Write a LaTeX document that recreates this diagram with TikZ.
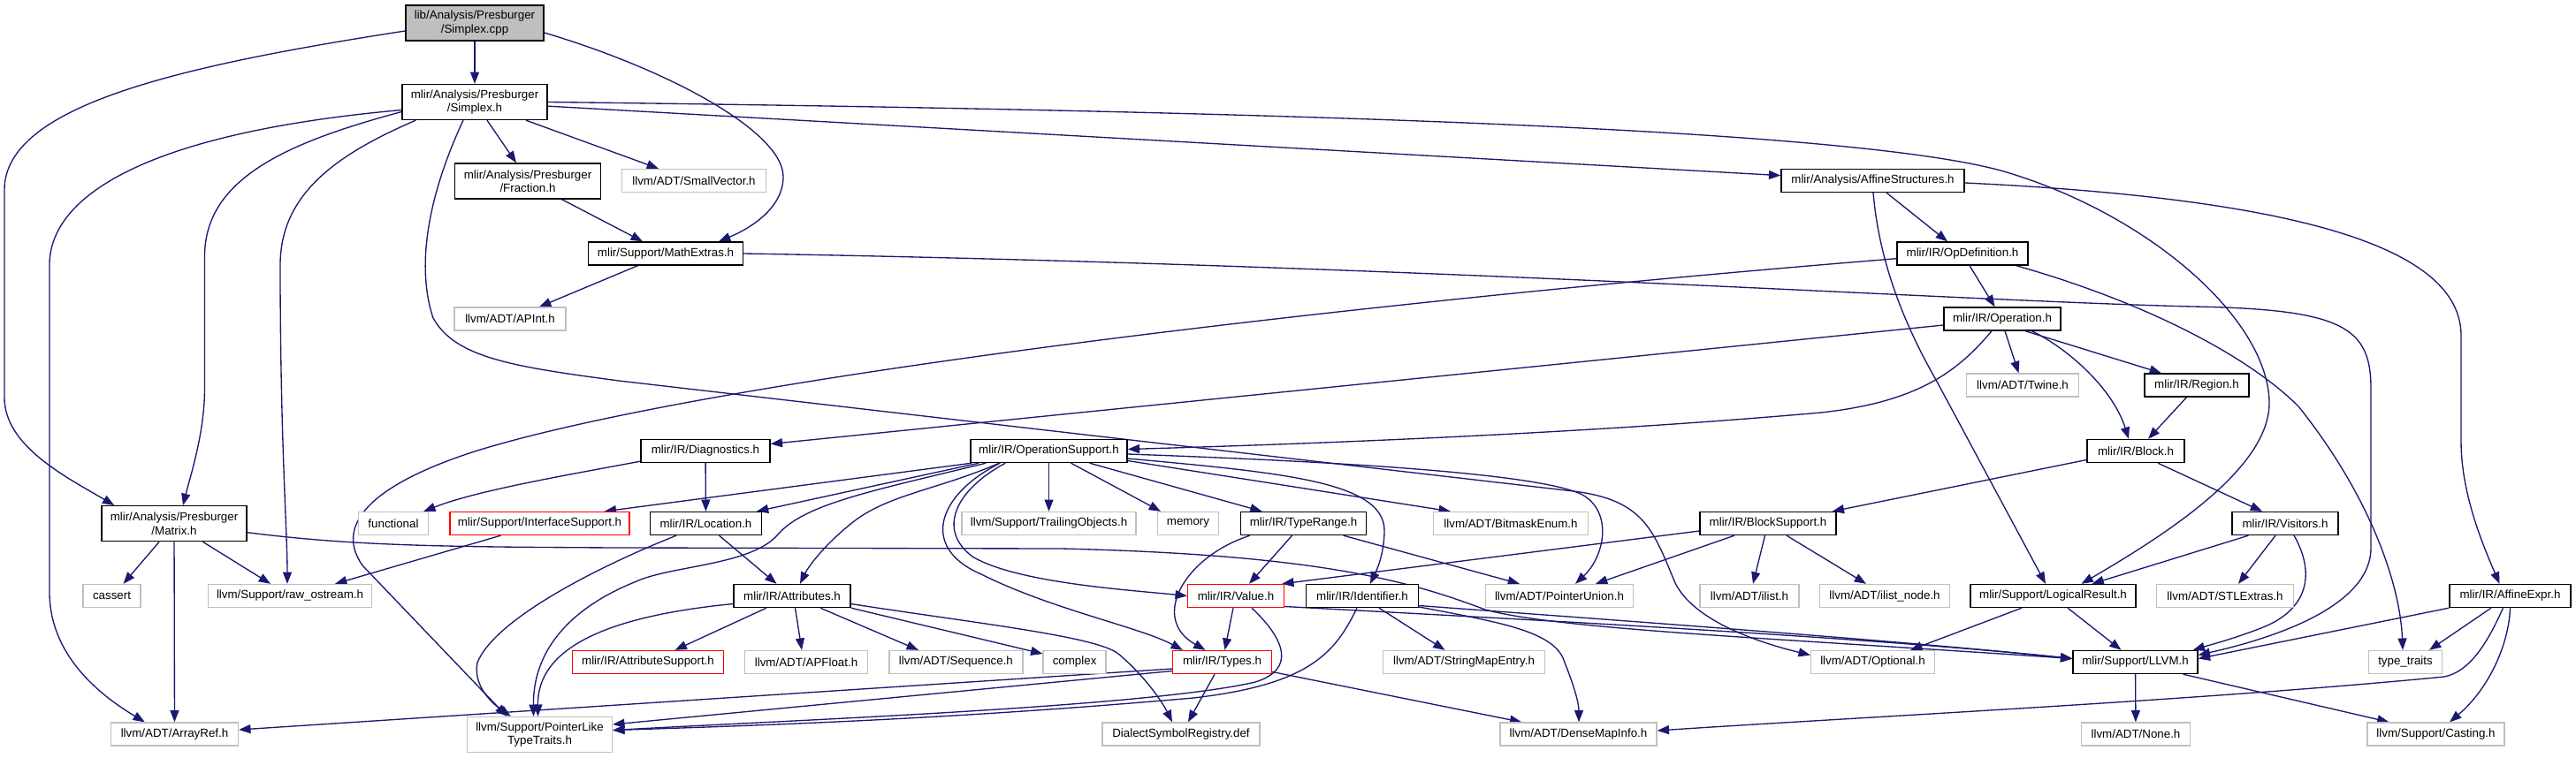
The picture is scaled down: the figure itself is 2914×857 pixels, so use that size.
\documentclass[tikz,border=0pt]{standalone}
\usepackage{fontspec}
\setmainfont{Liberation Sans}
\usetikzlibrary{arrows.meta,calc,backgrounds}
\definecolor{edgeblue}{HTML}{191970}
\definecolor{grey75}{HTML}{BFBFBF}
\tikzset{
  nd/.style={draw=black, fill=white, line width=1pt, inner sep=0pt, minimum height=19.5pt, align=center, text=black, font=\fontsize{10pt}{11.5pt}\selectfont},
  two/.style={minimum height=30pt},
  gx/.style={draw=grey75},
  rd/.style={draw=red},
  rootfill/.style={fill=grey75},
  bw/.style={minimum width=#1*0.75pt},
  conn/.style={draw=edgeblue, line width=1pt, -{Triangle[length=10pt,width=7.5pt]}}
}
\begin{document}
\begin{tikzpicture}[x=0.75pt,y=-0.75pt]
\useasboundingbox (0,0) rectangle (2914,857);
% nodes
\node[nd,two,rootfill,bw=156] (cpp) at (537,26) {lib/Analysis/Presburger\\/Simplex.cpp};
\node[nd,two,bw=164] (sh) at (537,115.5) {mlir/Analysis/Presburger\\/Simplex.h};
\node[nd,two,bw=164.5] (frac) at (597,205) {mlir/Analysis/Presburger\\/Fraction.h};
\node[nd,gx,bw=163] (sv) at (785,204.5) {llvm/ADT/SmallVector.h};
\node[nd,bw=207] (aff) at (2118.5,204.5) {mlir/Analysis/AffineStructures.h};
\node[nd,bw=175] (me) at (753,287) {mlir/Support/MathExtras.h};
\node[nd,bw=148] (opd) at (2220,287) {mlir/IR/OpDefinition.h};
\node[nd,gx,bw=126] (apint) at (577,361) {llvm/ADT/APInt.h};
\node[nd,bw=132] (op) at (2265,361) {mlir/IR/Operation.h};
\node[nd,gx,bw=127] (twine) at (2288,436) {llvm/ADT/Twine.h};
\node[nd,bw=118] (region) at (2485,436) {mlir/IR/Region.h};
\node[nd,bw=146] (diag) at (798,510.5) {mlir/IR/Diagnostics.h};
\node[nd,bw=177] (ops) at (1186.5,510.5) {mlir/IR/OperationSupport.h};
\node[nd,bw=110] (block) at (2416,510.5) {mlir/IR/Block.h};
\node[nd,two,bw=164] (mtx) at (197,592.7) {mlir/Analysis/Presburger\\/Matrix.h};
\node[nd,gx,bw=79] (func) at (445,592.5) {functional};
\node[nd,rd,bw=203] (ifs) at (610.5,592.5) {mlir/Support/InterfaceSupport.h};
\node[nd,bw=125.5] (loc) at (798.5,592.5) {mlir/IR/Location.h};
\node[nd,gx,bw=197] (trail) at (1186.5,592.5) {llvm/Support/TrailingObjects.h};
\node[nd,gx,bw=69] (mem) at (1344,592.5) {memory};
\node[nd,bw=142] (tr) at (1474.6,592.5) {mlir/IR/TypeRange.h};
\node[nd,gx,bw=175] (bme) at (1709,592.5) {llvm/ADT/BitmaskEnum.h};
\node[nd,bw=154] (bs) at (2000,592.5) {mlir/IR/BlockSupport.h};
\node[nd,bw=120] (vis) at (2585,592.5) {mlir/IR/Visitors.h};
\node[nd,gx,bw=65] (cassert) at (126.5,674.5) {cassert};
\node[nd,gx,bw=185] (raw) at (328,674.5) {llvm/Support/raw\_ostream.h};
\node[nd,bw=132] (attr) at (896,674.5) {mlir/IR/Attributes.h};
\node[nd,rd,bw=109] (val) at (1398,674.5) {mlir/IR/Value.h};
\node[nd,bw=127] (ident) at (1541,674.5) {mlir/IR/Identifier.h};
\node[nd,gx,bw=167] (pu) at (1764,674.5) {llvm/ADT/PointerUnion.h};
\node[nd,gx,bw=112] (ilist) at (1979,674.5) {llvm/ADT/ilist.h};
\node[nd,gx,bw=147] (ilnode) at (2132,674.5) {llvm/ADT/ilist\_node.h};
\node[nd,bw=187] (lr) at (2322.5,674.5) {mlir/Support/LogicalResult.h};
\node[nd,gx,bw=155] (stl) at (2517,674.5) {llvm/ADT/STLExtras.h};
\node[nd,bw=137] (ae) at (2839.5,674.5) {mlir/IR/AffineExpr.h};
\node[nd,rd,bw=171] (atsup) at (733,749.5) {mlir/IR/AttributeSupport.h};
\node[nd,gx,bw=139] (apf) at (912,749.5) {llvm/ADT/APFloat.h};
\node[nd,gx,bw=151] (seq) at (1081.4,749.5) {llvm/ADT/Sequence.h};
\node[nd,gx,bw=71] (cplx) at (1215.6,749.5) {complex};
\node[nd,rd,bw=112] (types) at (1382.5,749.5) {mlir/IR/Types.h};
\node[nd,gx,bw=182.5] (sme) at (1656,749.5) {llvm/ADT/StringMapEntry.h};
\node[nd,gx,bw=140] (opt) at (2118.5,749.5) {llvm/ADT/Optional.h};
\node[nd,bw=141] (llvm) at (2415.5,749.5) {mlir/Support/LLVM.h};
\node[nd,gx,bw=83] (tt) at (2721,749.5) {type\_traits};
\node[nd,gx,bw=144] (arr) at (197.5,831) {llvm/ADT/ArrayRef.h};
\node[nd,two,gx,bw=164] (plt) at (610.5,831.5) {llvm/Support/PointerLike\\TypeTraits.h};
\node[nd,gx,bw=178] (dsr) at (1336,831) {DialectSymbolRegistry.def};
\node[nd,gx,bw=177] (dmi) at (1785.5,831) {llvm/ADT/DenseMapInfo.h};
\node[nd,gx,bw=122.5] (none) at (2416,831) {llvm/ADT/None.h};
\node[nd,gx,bw=155] (cast) at (2755.5,831) {llvm/Support/Casting.h};

\begin{pgfonlayer}{background}
\fill[white] (0,0) rectangle (2914,857);
% Simplex.cpp
\draw[conn] (cpp) -- (sh);
\draw[conn] ($(cpp.west)+(0,9)$) .. controls (200,75) and (5,120) .. (5,215) -- (5,450) .. controls (5,505) and (75,540) .. ($(mtx.north west)+(15,0)$);
\draw[conn] ($(cpp.east)+(0,11)$) .. controls (760,80) and (886,150) .. (886,200) .. controls (886,235) and (850,258) .. ($(me.north)+(60,0)$);
% Simplex.h
\draw[conn] ($(sh.south)+(14,0)$) -- ($(frac.north)+(-13,0)$);
\draw[conn] ($(sh.south)+(58,0)$) -- ($(sv.north)+(-40,0)$);
\draw[conn] (sh) -- (aff);
\draw[conn] (sh.east) .. controls (1400,125) and (2100,144) .. (2270,195) .. controls (2430,243) and (2565,360) .. (2567,455) .. controls (2568,530) and (2450,605) .. ($(lr.north)+(32,0)$);
\draw[conn] ($(sh.west)+(0,11)$) .. controls (330,160) and (231.5,200) .. (231.5,290) -- (231.5,440) .. controls (231.5,490) and (215,540) .. ($(mtx.north)+(10,0)$);
\draw[conn] ($(sh.west)+(0,9)$) .. controls (170,150) and (56,220) .. (56,300) -- (56,670) .. controls (56,740) and (110,785) .. ($(arr.north west)+(39,0)$);
\draw[conn] ($(sh.south west)+(16,0)$) .. controls (380,175) and (317,220) .. (317,300) .. controls (317,500) and (325,600) .. ($(raw.north)+(-3,0)$);
\draw[conn] ($(sh.south)+(-13,0)$) .. controls (485,220) and (470,300) .. (490,360) .. controls (515,405) and (580,415) .. (700,431) -- (1780,556) .. controls (1860,566) and (1870,600) .. (1895,660) .. controls (1915,700) and (1980,725) .. ($(opt.west)+(0,-8)$);
% Fraction, MathExtras
\draw[conn] ($(frac.south)+(38.5,0)$) -- ($(me.north)+(-26,0)$);
\draw[conn] ($(me.south)+(-31.5,0)$) -- ($(apint.north)+(33,0)$);
\draw[conn] (me.east) .. controls (1600,300) and (2200,340) .. (2480,347) .. controls (2650,350) and (2682,370) .. (2682,440) -- (2682,620) .. controls (2682,690) and (2560,725) .. ($(llvm.east)+(0,-8)$);
% AffineStructures
\draw[conn] ($(aff.south)+(15.5,0)$) -- ($(opd.north)+(-17,0)$);
\draw[conn] ($(aff.south)+(0.5,0)$) .. controls (2125,290) and (2150,360) .. (2190,430) -- ($(lr.north)+(-8.5,0)$);
\draw[conn] ($(aff.east)+(0,2.5)$) .. controls (2600,225) and (2784,280) .. (2784,380) -- (2784,500) .. controls (2784,560) and (2810,620) .. ($(ae.north)+(-12,0)$);
% OpDefinition
\draw[conn] ($(opd.south)+(8,0)$) -- ($(op.north)+(-8.5,0)$);
\draw[conn] ($(opd.west)+(0,5.7)$) .. controls (1500,345) and (800,430) .. (540,510) .. controls (430,545) and (375,590) .. (410,640) -- ($(plt.north west)+(45.5,0)$);
\draw[conn] ($(opd.south east)+(-14,0)$) .. controls (2420,340) and (2540,400) .. (2600,460) .. controls (2680,560) and (2715,660) .. ($(tt.north)+(-3,0)$);
% Operation
\draw[conn] ($(op.south)+(3,0)$) -- ($(twine.north)+(-4.5,0)$);
\draw[conn] ($(op.south)+(26,0)$) -- ($(region.north)+(-40,0)$);
\draw[conn] ($(op.south)+(33.5,0)$) .. controls (2340,395) and (2390,440) .. ($(block.north)+(-8,0)$);
\draw[conn] ($(op.south)+(-12,0)$) .. controls (2215,420) and (2170,455) .. (2060,467) .. controls (1800,490) and (1500,502) .. ($(ops.east)+(0,-2)$);
\draw[conn] ($(op.west)+(0,7)$) -- ($(diag.east)+(0,-8)$);
% Diagnostics
\draw[conn] (diag) -- (loc);
\draw[conn] ($(diag.south west)+(0,-2)$) .. controls (640,538) and (540,555) .. ($(func.north east)+(-6,0)$);
% OperationSupport
\draw[conn] ($(ops.south west)+(2,0)$) -- ($(ifs.north east)+(-29,0)$);
\draw[conn] ($(ops.south west)+(10,0)$) -- ($(loc.north east)+(-6,0)$);
\draw[conn] ($(ops.south west)+(18,0)$) .. controls (990,555) and (910,570) .. (880,605) .. controls (850,640) and (760,640) .. (720,658) .. controls (640,690) and (603,740) .. ($(plt.north)+(-7,0)$);
\draw[conn] ($(ops.south west)+(33,0)$) .. controls (1060,555) and (1000,560) .. (960,595) .. controls (935,615) and (915,640) .. ($(attr.north)+(9,0)$);
\draw[conn] ($(ops.south west)+(34,0)$) .. controls (1060,560) and (1040,620) .. (1110,650) .. controls (1190,690) and (1290,710) .. ($(types.north west)+(12,0)$);
\draw[conn] ($(ops.south west)+(40,0)$) .. controls (1080,555) and (1060,600) .. (1100,630) .. controls (1150,660) and (1280,668) .. (val.west);
\draw[conn] (ops) -- (trail);
\draw[conn] ($(ops.south)+(25,0)$) -- ($(mem.north)+(-31,0)$);
\draw[conn] ($(ops.south)+(46,0)$) -- ($(tr.north)+(-47,0)$);
\draw[conn] ($(ops.east)+(0,8.5)$) .. controls (1450,535) and (1565,545) .. (1566,600) .. controls (1566,630) and (1555,650) .. ($(ident.north)+(9,0)$);
\draw[conn] ($(ops.east)+(0,11)$) -- ($(bme.north west)+(20,0)$);
\draw[conn] ($(ops.east)+(0,3.5)$) .. controls (1500,522) and (1740,535) .. (1790,560) .. controls (1825,580) and (1815,630) .. ($(pu.north)+(18,0)$);
% TypeRange
\draw[conn] ($(tr.south)+(-13,0)$) -- ($(val.north)+(15,0)$);
\draw[conn] ($(tr.south west)+(11,0)$) .. controls (1340,630) and (1300,700) .. ($(types.north)+(-19,0)$);
\draw[conn] ($(tr.south)+(45,0)$) -- ($(pu.north)+(-45,0)$);
% Value
\draw[conn] ($(val.south)+(-3,0)$) -- ($(types.north)+(3,0)$);
\draw[conn] ($(val.south)+(18,0)$) .. controls (1455,725) and (1465,758) .. (1420,772) .. controls (1300,800) and (900,815) .. ($(plt.east)+(0,-5)$);
\draw[conn] ($(val.east)+(0,12)$) .. controls (1700,700) and (2100,720) .. ($(llvm.west)+(0,-4)$);
% Identifier
\draw[conn] ($(ident.east)+(0,11)$) .. controls (1800,700) and (2150,725) .. ($(llvm.west)+(0,-4)$);
\draw[conn] ($(ident.south)+(19,0)$) -- ($(sme.north)+(-21.5,0)$);
\draw[conn] ($(ident.east)+(0,12.5)$) .. controls (1700,705) and (1760,715) .. (1770,750) .. controls (1780,775) and (1786,795) .. ($(dmi.north)+(0.5,0)$);
\draw[conn] ($(ident.south)+(-6,0)$) .. controls (1510,740) and (1480,775) .. (1350,790) .. controls (1100,812) and (900,820) .. ($(plt.east)+(0,-5)$);
% Matrix
\draw[conn] ($(mtx.east)+(0,10)$) .. controls (400,618) and (500,619) .. (700,620) -- (1200,621) .. controls (1500,628) and (1600,660) .. (1680,690) .. controls (1760,712) and (2000,722) .. ($(llvm.west)+(0,-4)$);
\draw[conn] ($(mtx.south)+(-17,0)$) -- ($(cassert.north)+(13,0)$);
\draw[conn] (mtx) -- (arr);
\draw[conn] ($(mtx.south)+(32.5,0)$) -- ($(raw.north)+(-22,0)$);
\draw[conn] ($(ifs.south)+(-44,0)$) -- ($(raw.north)+(51,0)$);
% Location
\draw[conn] ($(loc.south)+(15,0)$) -- ($(attr.north)+(-17.5,0)$);
\draw[conn] ($(loc.south west)+(30,0)$) .. controls (680,640) and (560,700) .. (540,750) .. controls (535,775) and (555,795) .. ($(plt.north west)+(50,0)$);
% Attributes
\draw[conn] ($(attr.south)+(-29,0)$) -- ($(atsup.north)+(30.5,0)$);
\draw[conn] ($(attr.south)+(3.5,0)$) -- ($(apf.north)+(-5,0)$);
\draw[conn] ($(attr.south)+(32,0)$) -- ($(seq.north)+(-42.5,0)$);
\draw[conn] (attr.south east) -- ($(cplx.west)+(0,-9.5)$);
\draw[conn] ($(attr.east)+(0,9)$) .. controls (1100,705) and (1240,720) .. (1265,740) .. controls (1295,765) and (1315,795) .. ($(dsr.north)+(-10,0)$);
\draw[conn] ($(attr.west)+(0,9)$) .. controls (660,700) and (608,745) .. ($(plt.north)+(-2,0)$);
% Types
\draw[conn] ($(types.south)+(-8.5,0)$) -- ($(dsr.north)+(8,0)$);
\draw[conn] ($(types.east)+(0,11)$) -- ($(dmi.north west)+(25,0)$);
\draw[conn] ($(types.west)+(0,10)$) -- ($(plt.east)+(0,-11.5)$);
\draw[conn] ($(types.west)+(0,7.5)$) -- ($(arr.east)+(0,-5)$);
% BlockSupport, Block, Region, Visitors
\draw[conn] ($(bs.west)+(0,8.5)$) -- ($(val.north east)+(-3,0)$);
\draw[conn] ($(bs.south)+(-38,0)$) -- ($(pu.north)+(41,0)$);
\draw[conn] ($(bs.south)+(-3.5,0)$) -- ($(ilist.north)+(4,0)$);
\draw[conn] ($(bs.south)+(21,0)$) -- ($(ilnode.north)+(-21,0)$);
\draw[conn] ($(block.west)+(0,10)$) -- ($(bs.north east)+(-5,0)$);
\draw[conn] ($(block.south)+(25,0)$) -- ($(vis.north)+(-26,0)$);
\draw[conn] ($(region.south)+(-11.5,0)$) -- ($(block.north)+(14,0)$);
\draw[conn] ($(vis.south)+(-41.5,0)$) -- ($(lr.north)+(44,0)$);
\draw[conn] ($(vis.south)+(-11,0)$) -- ($(stl.north)+(15,0)$);
\draw[conn] ($(vis.south)+(10,0)$) .. controls (2620,650) and (2610,690) .. (2560,710) .. controls (2530,722) and (2500,730) .. ($(llvm.north east)+(-6,0)$);
% LogicalResult, LLVM
\draw[conn] ($(lr.south)+(-35.5,0)$) -- ($(opt.north)+(42.5,0)$);
\draw[conn] ($(lr.south)+(16.5,0)$) -- ($(llvm.north)+(-16,0)$);
\draw[conn] (llvm) -- (none);
\draw[conn] ($(llvm.south)+(54,0)$) -- ($(cast.north)+(-53,0)$);
% AffineExpr
\draw[conn] (ae.south west) -- ($(llvm.east)+(0,-4)$);
\draw[conn] ($(ae.south)+(-21.5,0)$) -- ($(tt.north)+(27,0)$);
\draw[conn] (ae.south) .. controls (2838,730) and (2815,780) .. ($(cast.north)+(15.5,0)$);
\draw[conn] ($(ae.south)+(-8,0)$) .. controls (2815,725) and (2795,760) .. (2765,766) .. controls (2500,792) and (2100,812) .. ($(dmi.east)+(0,-4)$);
\end{pgfonlayer}
\end{tikzpicture}
\end{document}
